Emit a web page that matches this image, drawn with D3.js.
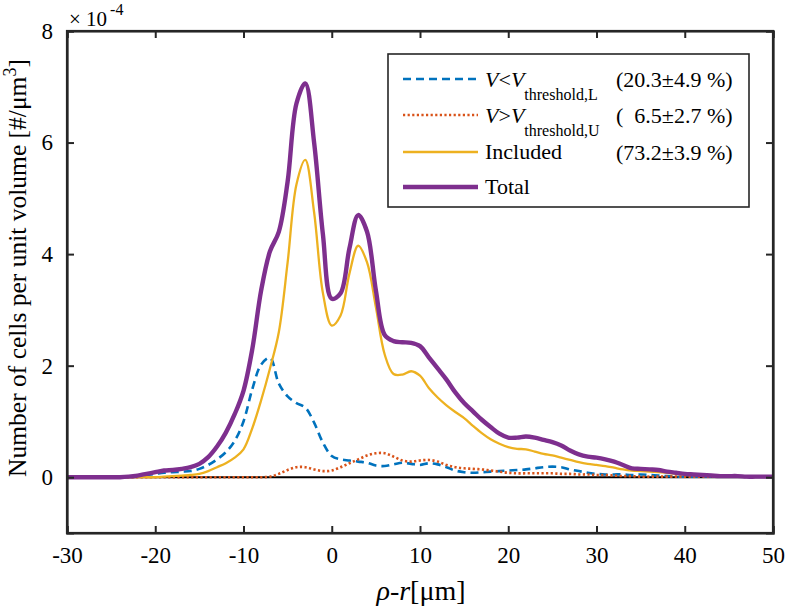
<!DOCTYPE html>
<html>
<head>
<meta charset="utf-8">
<script src="https://cdn.jsdelivr.net/npm/d3@7"></script>
<style>
  html, body { margin: 0; padding: 0; background: #fff; }
</style>
</head>
<body>
<svg id="chart" width="786" height="607"></svg>
<script>
// ---------------- data ----------------
const xValues = d3.range(-30, 51, 1);

const belowLower = [ // V < V_threshold,L  (blue dashed)
  0.00,0.00,0.00,0.00,0.00,0.00,0.01,0.01,0.02,0.04, // -30..-21
  0.06,0.08,0.09,0.10,0.11,0.15,0.22,0.32,0.45,0.65, // -20..-11
  1.00,1.58,2.02,2.14,1.68,1.45,1.33,1.25,0.98,0.62, // -10..-1
  0.38,0.32,0.30,0.28,0.26,0.21,0.20,0.23,0.26,0.24, // 0..9
  0.22,0.25,0.23,0.18,0.12,0.09,0.08,0.09,0.10,0.11, // 10..19
  0.12,0.13,0.14,0.16,0.18,0.19,0.18,0.14,0.11,0.08, // 20..29
  0.06,0.05,0.05,0.05,0.04,0.05,0.04,0.03,0.02,0.01, // 30..39
  0.01,0.01,0.01,0.01,0.01,0.01,0.01,0.01,0.01,0.01,0.01 // 40..50
];

const aboveUpper = [ // V > V_threshold,U  (orange dotted)
  0,0,0,0,0,0,0,0,0,0,                               // -30..-21
  0,0,0,0,0,0,0,0,0,0,                               // -20..-11
  0,0,0,0.01,0.06,0.13,0.18,0.18,0.14,0.11,          // -10..-1
  0.12,0.18,0.25,0.32,0.39,0.43,0.43,0.37,0.30,0.28, // 0..9
  0.30,0.31,0.28,0.22,0.18,0.16,0.15,0.14,0.12,0.10, // 10..19
  0.08,0.07,0.07,0.07,0.07,0.07,0.06,0.06,0.05,0.05, // 20..29
  0.04,0.04,0.03,0.02,0.02,0.01,0.01,0.01,0.01,0.01, // 30..39
  0.01,0.01,0.01,0.01,0.01,0.01,0.01,0.01,0.01,0.01,0.01 // 40..50
];

const included = [ // Included (yellow)
  0,0,0,0,0,0,0,0,0,0,                               // -30..-21
  0.00,0.01,0.02,0.03,0.04,0.06,0.11,0.18,0.25,0.35, // -20..-11
  0.50,0.88,1.38,1.95,2.60,3.85,5.25,5.69,4.75,3.30, // -10..-1
  2.72,2.90,3.65,4.15,3.85,3.05,2.20,1.85,1.84,1.90, // 0..9
  1.82,1.60,1.43,1.29,1.17,1.06,0.92,0.79,0.68,0.60, // 10..19
  0.54,0.51,0.50,0.46,0.42,0.39,0.35,0.31,0.27,0.24, // 20..29
  0.22,0.20,0.17,0.14,0.12,0.11,0.10,0.09,0.08,0.06, // 30..39
  0.05,0.04,0.04,0.03,0.02,0.02,0.02,0.01,0.01,0.01,0.01 // 40..50
];

const total = [ // Total (purple)
  0,0,0,0,0,0,0,0.01,0.03,0.06,                      // -30..-21
  0.09,0.12,0.13,0.15,0.18,0.24,0.36,0.55,0.80,1.13, // -20..-11
  1.55,2.30,3.35,4.05,4.40,5.30,6.70,7.06,6.00,4.35, // -10..-1
  3.20,3.30,4.10,4.70,4.40,3.35,2.55,2.44,2.42,2.41, // 0..9
  2.35,2.15,1.95,1.75,1.52,1.33,1.18,1.03,0.90,0.78, // 10..19
  0.71,0.71,0.73,0.71,0.67,0.63,0.57,0.48,0.41,0.37, // 20..29
  0.35,0.32,0.28,0.22,0.16,0.15,0.14,0.13,0.10,0.08, // 30..39
  0.06,0.05,0.04,0.03,0.02,0.02,0.02,0.01,0.01,0.01,0.01 // 40..50
];

const xTicks = [-30, -20, -10, 0, 10, 20, 30, 40, 50];
const yTicks = [0, 2, 4, 6, 8];

const legendPercent = ["(20.3\u00B14.9 %)", "(  6.5\u00B12.7 %)", "(73.2\u00B13.9 %)", ""];

// ---------------- layout ----------------
const FONT = "Liberation Serif";
const svg = d3.select("#chart");
const L = 67, R = 773, T = 31, B = 533;
const x = d3.scaleLinear().domain([-30, 50]).range([L, R]);
const y = d3.scaleLinear().domain([-1, 8]).range([B, T]);
const axisColor = "#262626";

const series = [
  { key: "below", values: belowLower, color: "#0072BD", width: 2.6, dash: "8,5" },
  { key: "above", values: aboveUpper, color: "#D95319", width: 2.6, dash: "2.2,2.4" },
  { key: "included", values: included, color: "#EDB120", width: 2.3, dash: null },
  { key: "total", values: total, color: "#7E2F8E", width: 4.4, dash: null }
];

svg.append("defs").append("clipPath").attr("id", "plotclip")
  .append("rect").attr("x", L).attr("y", T).attr("width", R - L).attr("height", B - T);

// zero line
svg.append("line")
  .attr("x1", L).attr("x2", R).attr("y1", y(0)).attr("y2", y(0))
  .attr("stroke", "#000").attr("stroke-width", 2);

const line = d3.line()
  .x((d, i) => x(xValues[i]))
  .y(d => y(d))
  .curve(d3.curveCatmullRom.alpha(0.5));

const plot = svg.append("g").attr("clip-path", "url(#plotclip)");
series.forEach(s => {
  plot.append("path")
    .datum(s.values)
    .attr("d", line)
    .attr("fill", "none")
    .attr("stroke", s.color)
    .attr("stroke-width", s.width)
    .attr("stroke-linejoin", "round")
    .attr("stroke-dasharray", s.dash);
});

// axes (box with inward ticks)
const tickLen = 7;
const fontSize = 23;
const fmt = d => String(d);
const axB = svg.append("g").attr("transform", `translate(0,${B})`)
  .call(d3.axisBottom(x).tickValues(xTicks).tickSize(-tickLen).tickPadding(14).tickFormat(fmt));
const axT = svg.append("g").attr("transform", `translate(0,${T})`)
  .call(d3.axisTop(x).tickValues(xTicks).tickSize(-tickLen).tickFormat(""));
const axL = svg.append("g").attr("transform", `translate(${L},0)`)
  .call(d3.axisLeft(y).tickValues(yTicks).tickSize(-tickLen).tickPadding(14).tickFormat(fmt));
const axR = svg.append("g").attr("transform", `translate(${R},0)`)
  .call(d3.axisRight(y).tickValues(yTicks).tickSize(-tickLen).tickFormat(""));

[axB, axT, axL, axR].forEach(g => {
  g.attr("font-family", FONT).attr("font-size", fontSize);
  g.select(".domain").attr("stroke", axisColor).attr("stroke-width", 2.2);
  g.selectAll(".tick line").attr("stroke", axisColor).attr("stroke-width", 2);
  g.selectAll(".tick text")
    .attr("fill", "#000")
    .style("font-family", FONT)
    .style("font-size", fontSize + "px");
});
svg.append("rect").attr("x", L).attr("y", T).attr("width", R - L).attr("height", B - T)
  .attr("fill", "none").attr("stroke", axisColor).attr("stroke-width", 2.2);

// exponent label
const expo = svg.append("text").attr("x", 69).attr("y", 26)
  .style("font-family", FONT).style("font-size", "21px").attr("fill", "#000");
expo.append("tspan").text("\u00D7 10");
expo.append("tspan").attr("dy", -11).attr("dx", 3).style("font-size", "16px").text("-4");

// y-axis label
const yl = svg.append("text")
  .attr("transform", `translate(26,268) rotate(-90)`)
  .attr("text-anchor", "middle")
  .style("font-family", FONT).style("font-size", "25.5px").attr("fill", "#000");
yl.append("tspan").text("Number of cells per unit volume [#/\u03BCm");
yl.append("tspan").attr("dy", -10).style("font-size", "18px").text("3");
yl.append("tspan").attr("dy", 10).text("]");

// x-axis label
const xl = svg.append("text")
  .attr("x", 421).attr("y", 600)
  .attr("text-anchor", "middle")
  .style("font-family", FONT).style("font-size", "28px").attr("fill", "#000");
xl.append("tspan").style("font-style", "italic").text("\u03C1");
xl.append("tspan").text("-");
xl.append("tspan").style("font-style", "italic").text("r");
xl.append("tspan").text("[\u03BCm]");

// ---------------- legend ----------------
const lg = svg.append("g").style("font-family", FONT);
lg.append("rect").attr("x", 388).attr("y", 54).attr("width", 361).attr("height", 153)
  .attr("fill", "#fff").attr("stroke", axisColor).attr("stroke-width", 1.6);
const rowY = [79, 115, 152, 187];
series.forEach((s, i) => {
  lg.append("line")
    .attr("x1", 403).attr("x2", 478).attr("y1", rowY[i]).attr("y2", rowY[i])
    .attr("stroke", s.color).attr("stroke-width", s.width)
    .attr("stroke-dasharray", s.dash);
});
function vLabel(i, rel, sub) {
  const t = lg.append("text").attr("x", 485).attr("y", rowY[i] + 8)
    .style("font-family", FONT).style("font-size", "22px").attr("fill", "#000");
  t.append("tspan").style("font-style", "italic").text("V");
  t.append("tspan").text(rel);
  t.append("tspan").style("font-style", "italic").text("V");
  t.append("tspan").attr("dy", 13).style("font-size", "16px").text(sub);
}
vLabel(0, "<", "threshold,L");
vLabel(1, ">", "threshold,U");
lg.append("text").attr("x", 485).attr("y", rowY[2] + 7).style("font-family", FONT).style("font-size", "22px").text("Included");
lg.append("text").attr("x", 485).attr("y", rowY[3] + 7).style("font-family", FONT).style("font-size", "22px").text("Total");
legendPercent.forEach((p, i) => {
  if (!p) return;
  lg.append("text").attr("x", 616).attr("y", rowY[i] + 8)
    .style("font-family", FONT).style("font-size", "22px").attr("xml:space", "preserve")
    .style("white-space", "pre")
    .text(p);
});
</script>
</body>
</html>
